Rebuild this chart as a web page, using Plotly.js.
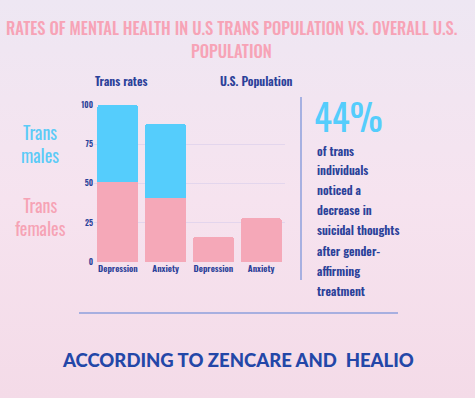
<!DOCTYPE html>
<html>
<head>
<meta charset="utf-8">
<script src="https://cdn.plot.ly/plotly-3.0.1.min.js"></script>
<style>html,body{margin:0;padding:0;background:#f5e3ee;}#chart{width:475px;height:398px;}</style>
</head>
<body>
<div id="chart"></div>
<script>
// ---- data ----
var conditions = ["Depression", "Anxiety", "Depression", "Anxiety"];
var groups = ["Trans rates", "Trans rates", "U.S. Population", "U.S. Population"];
var femalesOrOverall = [51, 41, 16, 28];   // pink (trans females / U.S. population)
var transMales = [49, 47, null, null];      // blue (trans males)
var yTicks = [0, 25, 50, 75, 100];
var statValue = "44%";
var statLines = ["of trans", "individuals", "noticed a", "decrease in", "suicidal thoughts", "after gender-", "affirming", "treatment"];
var titleLines = ["RATES OF MENTAL HEALTH IN U.S TRANS POPULATION VS. OVERALL U.S.", "POPULATION"];
var sourceText = "ACCORDING TO ZENCARE AND  HEALIO";

var xIdx = conditions.map(function (_, i) { return i; });
var PINK = "#f5a8b8", BLUE = "#55cdfc", NAVY = "#2b4199";
var COND = "Oswald, 'Roboto Condensed', sans-serif";

var traces = [
  { type: "bar", x: xIdx, y: femalesOrOverall, marker: { color: PINK }, name: "Trans females", hoverinfo: "y" },
  { type: "bar", x: xIdx, y: transMales, marker: { color: BLUE }, name: "Trans males", hoverinfo: "y" }
];

var W = 475, H = 398;
function px(x) { return x / W; }
function py(y) { return 1 - y / H; }
function ann(text, x, y, font, xanchor) {
  return { text: text, x: px(x), y: py(y), xref: "paper", yref: "paper", showarrow: false,
    xanchor: xanchor || "center", yanchor: "middle", font: font, align: "center" };
}

var titleFont = { family: COND, size: 16.5, color: "#f7a3b6", weight: 500 };
var annotations = [
  ann(titleLines[0], 231, 28, titleFont),
  ann(titleLines[1], 231, 51, titleFont),
  ann(groups[0], 121, 81, { family: COND, size: 12, color: NAVY, weight: 600 }),
  ann(groups[2], 256, 81, { family: COND, size: 12, color: NAVY, weight: 600 }),
  ann("Trans<br>males", 40, 143, { family: COND, size: 18, color: "#5ccbf7", weight: 400 }),
  ann("Trans<br>females", 40, 216, { family: COND, size: 18, color: "#f6a3b5", weight: 400 }),
  ann(statValue, 312, 116, { family: COND, size: 37, color: "#55cdfc", weight: 400 }, "left"),
  ann(sourceText, 238, 360, { family: "Lato, sans-serif", size: 18.5, color: "#2347a8", weight: 900 })
];
statLines.forEach(function (t, i) {
  annotations.push(ann(t, 315, 150 + 20 * i, { family: COND, size: 12, color: NAVY, weight: 600 }, "left"));
});

var bgSvg = "<svg xmlns='http://www.w3.org/2000/svg' width='475' height='398'><defs><linearGradient id='g' x1='0' y1='0' x2='0' y2='1'><stop offset='0' stop-color='#eee7f3'/><stop offset='0.5' stop-color='#f6e3ef'/><stop offset='1' stop-color='#f4dbe8'/></linearGradient></defs><rect width='475' height='398' fill='url(#g)'/></svg>";

var layout = {
  width: W, height: H,
  margin: { l: 0, r: 0, t: 0, b: 0 },
  paper_bgcolor: "#f5e3ee", plot_bgcolor: "rgba(0,0,0,0)",
  showlegend: false,
  barmode: "stack", bargap: 0.14, barcornerradius: 3,
  images: [{ source: "data:image/svg+xml;charset=utf-8," + encodeURIComponent(bgSvg),
    xref: "paper", yref: "paper", x: 0, y: 1, sizex: 1, sizey: 1, sizing: "stretch", layer: "below" }],
  xaxis: { domain: [px(94), px(285)], range: [-0.5, 3.5], tickvals: xIdx, ticktext: conditions,
    showgrid: false, zeroline: false, showline: false, ticks: "", fixedrange: true,
    tickfont: { family: COND, size: 9, color: NAVY, weight: 600 } },
  yaxis: { domain: [py(262), py(104)], range: [0, 100.6], tickvals: yTicks, ticks: "",
    showgrid: true, gridcolor: "rgba(225,212,236,0.9)", gridwidth: 1, zeroline: false, showline: false,
    fixedrange: true, tickfont: { family: COND, size: 8, color: NAVY, weight: 600 } },
  shapes: [
    { type: "line", xref: "paper", yref: "paper", x0: px(301), x1: px(301), y0: py(97), y1: py(280),
      line: { color: "#8c9fdc", width: 1.5 } },
    { type: "line", xref: "paper", yref: "paper", x0: px(79), x1: px(398), y0: py(313), y1: py(313),
      line: { color: "#8c9fdc", width: 1.5 } }
  ],
  annotations: annotations
};

Plotly.newPlot("chart", traces, layout, { displayModeBar: false, staticPlot: true });
</script>
</body>
</html>
